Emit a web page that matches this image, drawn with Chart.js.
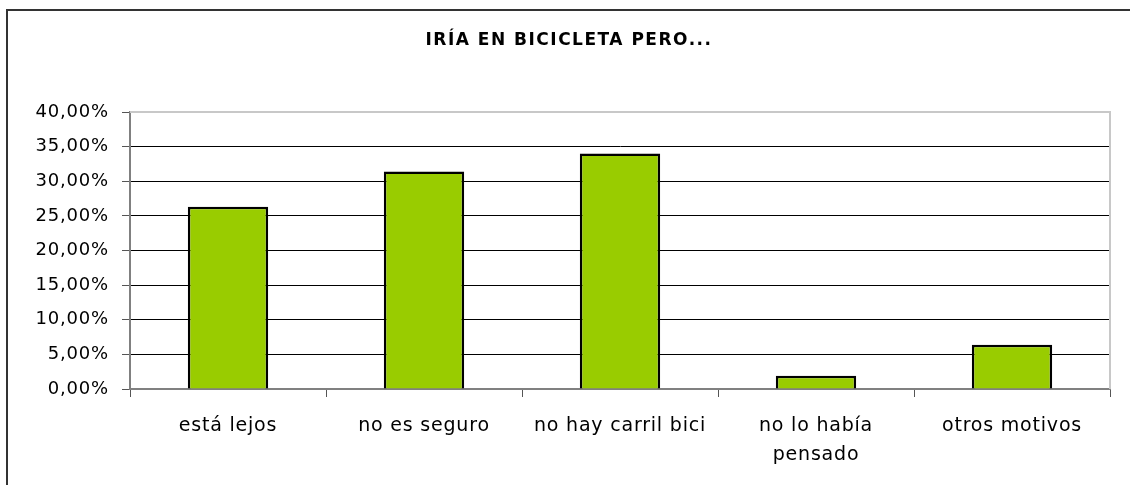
<!DOCTYPE html>
<html>
<head>
<meta charset="utf-8">
<script src="https://cdn.jsdelivr.net/npm/chart.js@4"></script>
<style>
html,body{margin:0;padding:0;background:#fff;}
#c{display:block;}
</style>
</head>
<body>
<canvas id="c" width="1130" height="485"></canvas>
<script>
const chartTitle = 'IRÍA EN BICICLETA PERO...';
const categories = ['está lejos', 'no es seguro', 'no hay carril bici', ['no lo había', 'pensado'], 'otros motivos'];
const values = [26.3, 31.4, 34.0, 1.9, 6.4];
const yTicks = [0, 5, 10, 15, 20, 25, 30, 35, 40];

const FONT = '"DejaVu Sans", sans-serif';

const framePlugin = {
  id: 'frame',
  beforeDraw(chart) {
    const c = chart.ctx;
    c.save();
    c.fillStyle = '#fff';
    c.fillRect(0, 0, chart.width, chart.height);
    c.strokeStyle = '#333';
    c.lineWidth = 2;
    c.beginPath();
    c.moveTo(7, chart.height + 5);
    c.lineTo(7, 10);
    c.lineTo(chart.width + 5, 10);
    c.stroke();
    c.restore();
    c.letterSpacing = '0.8px';
  },
  beforeDatasetsDraw(chart) {
    const a = chart.chartArea;
    const c = chart.ctx;
    c.save();
    c.strokeStyle = '#c8c8c8';
    c.lineWidth = 2;
    c.beginPath();
    c.moveTo(a.left, a.top);
    c.lineTo(a.right, a.top);
    c.lineTo(a.right, a.bottom);
    c.stroke();
    c.restore();
  },
  afterDraw(chart) {
    const c = chart.ctx;
    c.save();
    c.fillStyle = '#000';
    c.font = 'bold 17px ' + FONT;
    c.letterSpacing = '1.5px';
    c.textAlign = 'center';
    c.textBaseline = 'middle';
    c.fillText(chartTitle, 569, 41);
    c.restore();
    c.letterSpacing = '0px';
  }
};

new Chart(document.getElementById('c'), {
  type: 'bar',
  data: {
    labels: categories,
    datasets: [{
      data: values,
      backgroundColor: '#99CC00',
      borderColor: '#000',
      borderWidth: 2.5,
      barPercentage: 0.41,
      categoryPercentage: 1
    }]
  },
  options: {
    responsive: false,
    devicePixelRatio: 1,
    animation: false,
    layout: { padding: { top: 112, right: 20, bottom: 0, left: 0 } },
    plugins: { legend: { display: false }, title: { display: false }, tooltip: { enabled: false } },
    scales: {
      x: {
        afterFit(s) { s.height = 96; },
        grid: { display: true, drawOnChartArea: false, drawTicks: true, tickLength: 8, color: '#555', lineWidth: 1 },
        border: { display: true, color: '#808080', width: 2 },
        ticks: { color: '#000', font: { family: FONT, size: 19, lineHeight: 1.55 }, padding: 14, maxRotation: 0, autoSkip: false }
      },
      y: {
        min: 0, max: 40,
        afterFit(s) { s.width = 130; },
        afterBuildTicks(s) { s.ticks = yTicks.map(v => ({ value: v })); },
        grid: {
          drawTicks: true, tickLength: 8, lineWidth: 1,
          color(ctx) { return ctx.tick && ctx.tick.value === 40 ? '#c8c8c8' : '#000'; },
          tickColor: '#555'
        },
        border: { display: true, color: '#808080', width: 2 },
        ticks: {
          color: '#000', font: { family: FONT, size: 18 }, padding: 13,
          callback(v) { return v.toFixed(2).replace('.', ',') + '%'; }
        }
      }
    }
  },
  plugins: [framePlugin]
});
</script>
</body>
</html>
